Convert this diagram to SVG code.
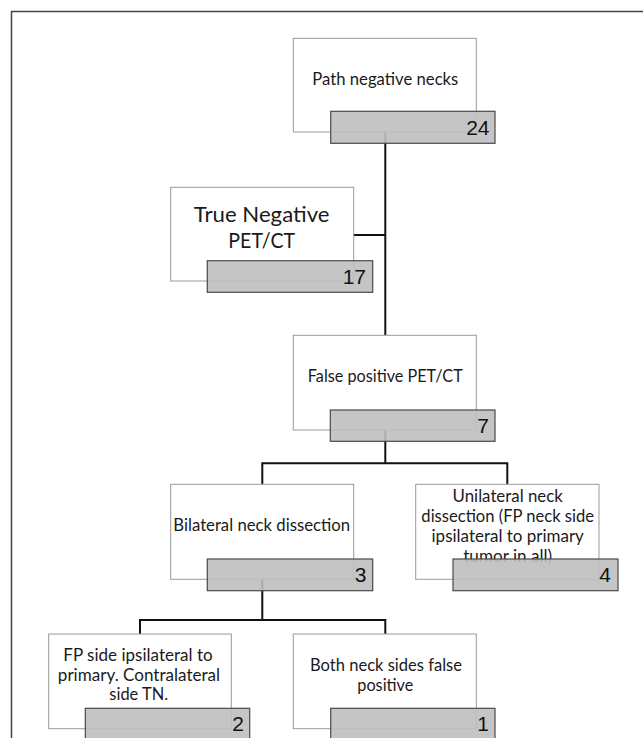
<svg xmlns="http://www.w3.org/2000/svg" width="643" height="738" viewBox="0 0 643 738">
<style>
.frame{fill:none;stroke:#444;stroke-width:1.5}
.box{fill:#fff;stroke:#9a9a9a;stroke-width:1}
.num{fill:#bfbfbf;fill-opacity:0.9;stroke:#4a4a4a;stroke-width:1.2}
.lbl{font-family:Lato,"Open Sans","Liberation Sans",sans-serif;font-size:17px;fill:#1a1a1a;text-anchor:middle}
.big{font-size:22px}
.n{font-family:"Liberation Sans",Arial,sans-serif;font-size:21px;fill:#111;text-anchor:end}
.c{fill:none;stroke:#111;stroke-width:2}
</style>
<rect width="643" height="738" fill="#fff"/>
<path class="frame" d="M11.5,738 V11.5 H643"/>
<g id="connectors">
<path class="c" d="M385.3,132 V335.3 M353.7,235 H385.3"/>
<path class="c" d="M385.3,430 V463.3 M262.3,484.3 V463.3 H507.3 V484.3"/>
<path class="c" d="M262.3,579.3 V620 M140,634 V620 H385.3 V634"/>
</g>
<g id="n1">
<rect class="box" x="293.3" y="38.3" width="183" height="93.7"/>
<text class="lbl" x="385.3" y="85" textLength="146" lengthAdjust="spacingAndGlyphs">Path negative necks</text>
<rect class="num" x="330.7" y="111.3" width="164.3" height="32"/>
<text class="n" x="489.5" y="134.5">24</text>
</g>
<g id="n2">
<rect class="box" x="170.7" y="187.3" width="183" height="93.7"/>
<text class="lbl big" x="261.7" y="221.7" textLength="135.7" lengthAdjust="spacingAndGlyphs">True Negative</text>
<text class="lbl big" x="261.7" y="248.3" textLength="66.7" lengthAdjust="spacingAndGlyphs">PET/CT</text>
<rect class="num" x="207.3" y="260.7" width="165.4" height="31.6"/>
<text class="n" x="366" y="283.5">17</text>
</g>
<g id="n3">
<rect class="box" x="293.3" y="335.3" width="183" height="94.7"/>
<text class="lbl" x="385.3" y="382.3" textLength="155" lengthAdjust="spacingAndGlyphs">False positive PET/CT</text>
<rect class="num" x="330.3" y="410" width="164.7" height="31.3"/>
<text class="n" x="489" y="432.7">7</text>
</g>
<g id="n4">
<rect class="box" x="170.7" y="484.3" width="183" height="95"/>
<text class="lbl" x="261.7" y="531" textLength="176.7" lengthAdjust="spacingAndGlyphs">Bilateral neck dissection</text>
<rect class="num" x="207.3" y="559" width="165.4" height="31.7"/>
<text class="n" x="366.5" y="581.7">3</text>
</g>
<g id="n5">
<rect class="box" x="415.7" y="484.3" width="183.3" height="95"/>
<text class="lbl" x="507.7" y="502.3" textLength="110.3" lengthAdjust="spacingAndGlyphs">Unilateral neck</text>
<text class="lbl" x="507.7" y="522" textLength="172.7" lengthAdjust="spacingAndGlyphs">dissection (FP neck side</text>
<text class="lbl" x="507.7" y="542" textLength="152.3" lengthAdjust="spacingAndGlyphs">ipsilateral to primary</text>
<text class="lbl" x="507.7" y="561.7" textLength="89" lengthAdjust="spacingAndGlyphs">tumor in all)</text>
<rect class="num" x="453" y="559" width="165" height="31.7"/>
<text class="n" x="611" y="581.7">4</text>
</g>
<g id="n6">
<rect class="box" x="48.7" y="634" width="182.6" height="94.7"/>
<text class="lbl" x="138" y="660.7" textLength="149.3" lengthAdjust="spacingAndGlyphs">FP side ipsilateral to</text>
<text class="lbl" x="139" y="680.7" textLength="162.3" lengthAdjust="spacingAndGlyphs">primary. Contralateral</text>
<text class="lbl" x="138.7" y="700" textLength="58.7" lengthAdjust="spacingAndGlyphs">side TN.</text>
<rect class="num" x="85.3" y="708.3" width="164.4" height="40"/>
<text class="n" x="244" y="731">2</text>
</g>
<g id="n7">
<rect class="box" x="293.3" y="634" width="183" height="94.7"/>
<text class="lbl" x="386" y="670.7" textLength="152" lengthAdjust="spacingAndGlyphs">Both neck sides false</text>
<text class="lbl" x="385.3" y="690.7" textLength="56" lengthAdjust="spacingAndGlyphs">positive</text>
<rect class="num" x="330.7" y="708.3" width="164.3" height="40"/>
<text class="n" x="489" y="731">1</text>
</g>
</svg>
